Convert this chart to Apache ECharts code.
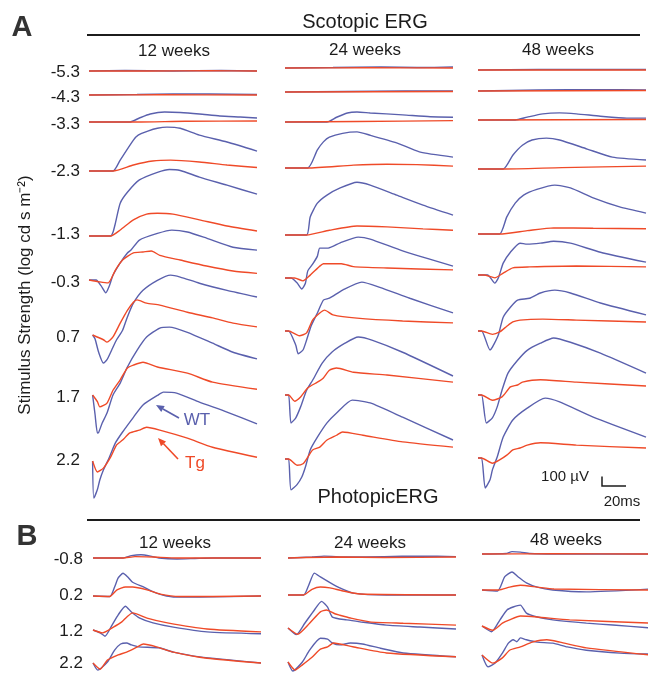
<!DOCTYPE html>
<html><head><meta charset="utf-8">
<script src="https://cdn.jsdelivr.net/npm/echarts/dist/echarts.min.js"></script>
<style>html,body{margin:0;padding:0;background:#fff}#c{width:648px;height:673px}</style>
</head><body><div id="c"></div><script>
// ---------- DATA (time ms, amplitude µV relative to each trace's baseline) ----------
const weekTitles = ['12 weeks', '24 weeks', '48 weeks'];
const scotopicLevels = ['-5.3', '-4.3', '-3.3', '-2.3', '-1.3', '-0.3', '0.7', '1.7', '2.2'];
const photopicLevels = ['-0.8', '0.2', '1.2', '2.2'];

// Scotopic, WT
const scoWT12 = [
  [[0,0],[30,5],[70,0],[110,5],[140,0]],
  [[0,0],[40,5],[70,10],[100,10],[140,5]],
  [[0,0],[34,0],[42,42],[51,84],[63,105],[76,100],[92,84],[109,63],[126,52],[140,42]],
  [[0,0],[20,0],[26,115],[37,325],[41,378],[49,420],[57,450],[65,462],[76,450],[92,378],[115,305],[140,210]],
  [[0,0],[18,0],[20,40],[22,135],[26,345],[32,460],[42,590],[57,670],[67,700],[76,690],[92,620],[115,535],[140,440]],
  [[0,0],[6,0],[10,-60],[14,-135],[17,-60],[20,50],[26,180],[32,285],[35,315],[42,420],[57,490],[69,525],[82,505],[98,440],[120,345],[140,315]],
  [[3,0],[5,-40],[8,-180],[12,-295],[15,-260],[19,-155],[23,-50],[28,50],[32,190],[37,335],[45,470],[57,575],[68,630],[76,610],[92,545],[115,470],[140,400]],
  [[3,0],[5,-200],[7,-400],[8,-395],[11,-295],[15,-190],[20,0],[26,125],[32,295],[40,470],[48,610],[59,705],[67,715],[82,660],[103,545],[120,450],[140,380]],
  [[3,0],[4,-390],[7,-300],[9,-200],[12,-95],[17,40],[22,190],[28,305],[37,460],[45,590],[57,690],[62,725],[73,715],[92,620],[115,515],[140,390]]
];
const scoWT24 = [
  [[0,0],[40,5],[80,10],[110,5],[140,10]],
  [[0,0],[50,5],[100,10],[140,10]],
  [[0,0],[35,0],[43,50],[52,95],[60,105],[71,95],[98,75],[121,55],[140,50]],
  [[0,0],[19,0],[27,190],[32,275],[37,325],[48,365],[60,380],[71,345],[93,265],[112,170],[140,115]],
  [[0,0],[18,0],[21,190],[27,335],[35,420],[46,495],[60,555],[71,525],[93,420],[115,315],[140,210]],
  [[0,0],[5,0],[10,-50],[14,-115],[17,-55],[19,75],[23,145],[27,230],[29,315],[36,315],[46,370],[61,430],[71,410],[98,285],[140,125]],
  [[0,0],[3,0],[9,-150],[11,-240],[15,-200],[18,-95],[22,60],[27,190],[32,325],[37,345],[48,430],[64,515],[79,460],[104,345],[140,190]],
  [[0,0],[3,0],[5,-295],[9,-240],[13,-125],[18,50],[23,155],[31,335],[39,450],[50,545],[61,610],[73,575],[98,450],[140,200]],
  [[0,0],[3,0],[5,-325],[10,-270],[14,-190],[17,-85],[21,95],[27,230],[35,380],[43,485],[56,620],[71,590],[98,440],[140,200]]
];
const scoWT48 = [
  [[0,0],[50,5],[100,5],[140,5]],
  [[0,0],[50,10],[100,15],[140,10]],
  [[0,0],[31,0],[41,30],[54,65],[68,75],[82,65],[102,40],[124,20],[140,20]],
  [[0,0],[21,0],[29,145],[37,250],[45,305],[57,325],[68,305],[91,210],[112,125],[140,95]],
  [[0,0],[18,0],[24,180],[31,325],[38,410],[49,470],[64,515],[77,485],[96,380],[118,285],[140,220]],
  [[0,0],[8,0],[14,-85],[17,-30],[21,125],[27,240],[35,335],[41,325],[52,335],[63,355],[77,335],[102,240],[140,135]],
  [[0,0],[3,0],[10,-200],[12,-170],[17,-40],[21,145],[27,250],[33,325],[43,345],[52,400],[64,430],[77,400],[102,295],[140,170]],
  [[0,0],[3,0],[7,-295],[12,-240],[16,-125],[20,50],[25,230],[33,365],[41,470],[52,545],[63,600],[77,555],[102,440],[140,230]],
  [[0,0],[3,0],[6,-315],[10,-230],[12,-125],[16,10],[21,220],[29,400],[41,525],[56,630],[68,590],[96,430],[140,220]]
];
// Scotopic, Tg
const scoTG12 = [
  [[0,0],[50,0],[100,3],[140,0]],
  [[0,0],[60,3],[140,0]],
  [[0,0],[40,0],[80,8],[140,10]],
  [[0,0],[20,0],[37,63],[53,105],[68,115],[92,95],[115,63],[140,37]],
  [[0,0],[18,0],[26,63],[37,170],[48,230],[57,240],[70,230],[92,170],[115,105],[140,52]],
  [[0,0],[9,-20],[16,-30],[22,105],[28,210],[37,285],[45,295],[52,305],[59,260],[76,210],[98,147],[120,95],[140,70]],
  [[3,0],[12,-50],[15,-75],[20,-20],[26,125],[32,260],[37,345],[40,370],[48,335],[59,315],[82,240],[103,180],[120,125],[140,85]],
  [[3,0],[7,-70],[9,-125],[15,-85],[20,50],[26,160],[32,285],[37,315],[45,345],[57,295],[82,230],[103,135],[140,60]],
  [[3,0],[7,-115],[12,-75],[18,40],[23,170],[28,220],[34,295],[42,325],[48,355],[59,325],[82,240],[103,145],[140,40]]
];
const scoTG24 = [
  [[0,0],[70,3],[140,0]],
  [[0,0],[140,5]],
  [[0,0],[60,5],[140,15]],
  [[0,0],[19,0],[57,30],[85,40],[110,35],[140,20]],
  [[0,0],[18,0],[37,50],[60,95],[85,85],[115,65],[140,50]],
  [[0,0],[8,0],[15,-30],[21,30],[29,125],[32,150],[47,150],[57,120],[85,105],[140,85]],
  [[0,0],[3,0],[12,-50],[18,-20],[23,115],[29,190],[33,220],[40,170],[60,135],[98,105],[140,85]],
  [[0,0],[3,0],[8,-65],[13,-20],[19,75],[27,135],[32,180],[37,260],[43,285],[57,240],[85,210],[140,135]],
  [[0,0],[3,0],[10,-65],[15,-50],[19,20],[23,95],[29,125],[35,200],[43,250],[48,285],[65,250],[98,180],[140,125]]
];
const scoTG48 = [
  [[0,0],[140,0]],
  [[0,0],[140,5]],
  [[0,0],[140,5]],
  [[0,0],[21,0],[70,15],[140,30]],
  [[0,0],[18,0],[41,35],[63,65],[96,60],[140,55]],
  [[0,0],[5,0],[14,-30],[21,20],[29,75],[43,85],[82,95],[140,85]],
  [[0,0],[3,0],[12,-35],[18,-10],[24,50],[29,95],[35,115],[54,125],[82,115],[140,95]],
  [[0,0],[3,0],[12,-55],[20,-20],[27,85],[33,105],[37,135],[52,160],[82,135],[140,95]],
  [[0,0],[3,0],[12,-55],[18,-20],[24,30],[29,85],[35,105],[41,135],[52,160],[82,135],[140,105]]
];
// Photopic, WT
const phoWT12 = [
  [[0,0],[25,0],[32,25],[40,35],[48,20],[55,0],[70,-10],[85,-5],[100,0],[140,0]],
  [[0,0],[14,-5],[18,95],[21,190],[25,240],[29,200],[33,145],[42,95],[53,30],[67,-10],[89,-10],[140,0]],
  [[0,0],[6,-30],[10,-65],[16,55],[21,160],[27,250],[32,190],[39,125],[50,75],[67,30],[95,-20],[140,-40]],
  [[0,0],[4,-75],[12,10],[18,135],[23,200],[28,210],[32,190],[38,170],[55,160],[67,115],[89,65],[140,0]]
];
const phoWT24 = [
  [[0,0],[20,10],[30,20],[50,10],[80,15],[110,20],[140,15]],
  [[0,0],[13,0],[17,95],[22,230],[27,190],[35,130],[43,75],[54,20],[82,0],[140,0]],
  [[0,0],[7,-70],[14,50],[22,190],[28,280],[33,220],[37,115],[49,85],[60,65],[82,30],[110,10],[140,-10]],
  [[0,0],[4,-95],[12,0],[18,125],[27,250],[33,240],[37,200],[43,180],[52,200],[62,190],[77,145],[96,95],[140,55]]
];
const phoWT48 = [
  [[0,0],[20,5],[25,25],[32,20],[40,5],[60,0],[140,0]],
  [[0,0],[13,-10],[19,140],[25,190],[30,140],[37,75],[46,30],[59,0],[87,-20],[140,10]],
  [[0,0],[8,-60],[15,65],[21,170],[26,200],[32,220],[37,135],[46,95],[59,65],[87,30],[109,10],[140,-20]],
  [[0,0],[5,-125],[11,-85],[17,20],[22,125],[26,160],[29,140],[32,180],[37,160],[46,135],[59,125],[71,85],[87,50],[115,20],[140,10]]
];
// Photopic, Tg
const phoTG12 = [
  [[0,0],[25,0],[35,15],[50,10],[70,0],[140,0]],
  [[0,0],[14,-5],[20,65],[27,95],[33,95],[45,65],[56,20],[72,-5],[100,-5],[140,0]],
  [[0,0],[8,-30],[17,30],[24,85],[28,135],[33,180],[45,125],[62,75],[95,10],[140,-20]],
  [[0,0],[6,-65],[12,30],[21,85],[28,115],[37,170],[42,200],[53,170],[67,115],[95,50],[140,0]]
];
const phoTG24 = [
  [[0,0],[40,10],[80,5],[140,10]],
  [[0,0],[13,0],[20,60],[27,85],[35,75],[45,45],[60,10],[140,0]],
  [[0,0],[8,-65],[18,50],[27,170],[32,190],[39,150],[43,135],[52,105],[68,65],[96,50],[140,30]],
  [[0,0],[6,-85],[12,-30],[20,50],[27,135],[33,160],[38,200],[54,160],[82,95],[140,55]]
];
const phoTG48 = [
  [[0,0],[60,3],[140,0]],
  [[0,0],[14,0],[23,30],[32,50],[46,30],[60,10],[140,0]],
  [[0,0],[9,-45],[17,30],[23,65],[32,105],[46,95],[73,65],[140,30]],
  [[0,0],[9,-85],[17,-30],[23,50],[32,85],[42,135],[54,160],[65,135],[87,75],[140,0]]
];

// ---------- LAYOUT ----------
const K = 0.095;       // px per µV
const PXMS = 1.2;      // px per ms
const T_MAX = 140;
const HI = 800, LO = 450;
const WT_COLOR = '#5a60ad', TG_COLOR = '#ef4a28', INK = '#1c1c1c';
const FONT = '"Liberation Sans", Arial, sans-serif';

const colXA = [89, 285, 478];
const baseA = [
  [71, 95, 122, 171, 236, 280, 335, 395, 461],
  [68, 92, 122, 168, 235, 278, 331, 395, 459],
  [70, 91, 120, 169, 234, 275, 331, 395, 458]
];
const colXB = [93, 288, 482];
const baseB = [
  [558, 596, 630, 663],
  [558, 595, 628, 662],
  [554, 590, 626, 655]
];

const grids = [], xAxes = [], yAxes = [], series = [];
function mk(gi, data, color) {
  return {type: 'line', xAxisIndex: gi, yAxisIndex: gi, data: data, showSymbol: false,
    smooth: 0.2, silent: true, clip: false,
    lineStyle: {color: color, width: 1.4}};
}
function addPanel(colX, bases, wtSets, tgSets) {
  colX.forEach((x0, c) => {
    bases[c].forEach((b, r) => {
      const gi = grids.length;
      grids.push({left: x0, top: b - HI * K, width: T_MAX * PXMS, height: (HI + LO) * K,
        outerBoundsMode: 'none', containLabel: false});
      xAxes.push({gridIndex: gi, type: 'value', min: 0, max: T_MAX, show: false});
      yAxes.push({gridIndex: gi, type: 'value', min: -LO, max: HI, show: false});
      series.push(mk(gi, wtSets[c][r], WT_COLOR));
      series.push(mk(gi, tgSets[c][r], TG_COLOR));
    });
  });
}
addPanel(colXA, baseA, [scoWT12, scoWT24, scoWT48], [scoTG12, scoTG24, scoTG48]);
addPanel(colXB, baseB, [phoWT12, phoWT24, phoWT48], [phoTG12, phoTG24, phoTG48]);

const g = [];
function txt(x, y, s, size, opts) {
  g.push(Object.assign({type: 'text', x: x, y: y, silent: true,
    style: Object.assign({text: s, fontSize: size, fontFamily: FONT, fill: INK,
      align: 'center', verticalAlign: 'middle'}, (opts && opts.style) || {})},
    (opts && opts.el) || {}));
}
function hline(x1, x2, y, w, color) {
  g.push({type: 'line', silent: true, shape: {x1: x1, y1: y, x2: x2, y2: y},
    style: {stroke: color || INK, lineWidth: w}});
}
function arrow(x1, y1, x2, y2, color) {
  const ang = Math.atan2(y2 - y1, x2 - x1), L = 8, Wd = 3.5;
  const bx = x2 - L * Math.cos(ang), by = y2 - L * Math.sin(ang);
  g.push({type: 'line', silent: true, shape: {x1: x1, y1: y1, x2: bx, y2: by},
    style: {stroke: color, lineWidth: 1.6}});
  g.push({type: 'polygon', silent: true, shape: {points: [[x2, y2],
    [bx + Wd * Math.sin(ang), by - Wd * Math.cos(ang)],
    [bx - Wd * Math.sin(ang), by + Wd * Math.cos(ang)]]}, style: {fill: color}});
}

// Panel letters and headers
txt(22, 28, 'A', 29, {style: {fontWeight: 'bold', fill: '#333'}});
txt(27, 537, 'B', 29, {style: {fontWeight: 'bold', fill: '#333'}});
txt(365, 22, 'Scotopic ERG', 20);
hline(87, 640, 35, 2);
txt(378, 497, 'PhotopicERG', 20);
hline(87, 640, 520, 2);

const titleA = [[174, 51], [365, 50], [558, 50]];
const titleB = [[175, 543], [370, 543], [566, 540]];
weekTitles.forEach((t, i) => { txt(titleA[i][0], titleA[i][1], t, 17); txt(titleB[i][0], titleB[i][1], t, 17); });

// Row labels
const labelYA = [72, 97, 124, 171, 234, 282, 337, 397, 460];
scotopicLevels.forEach((s, i) => txt(80, labelYA[i], s, 17, {style: {align: 'right'}}));
const labelYB = [559, 595, 631, 663];
photopicLevels.forEach((s, i) => txt(83, labelYB[i], s, 17, {style: {align: 'right'}}));

// Y title
txt(25, 295, 'Stimulus Strength (log cd s m\u207B\u00B2)', 17, {el: {rotation: Math.PI / 2}});

// WT / Tg annotations
arrow(179, 418, 156, 405, WT_COLOR);
txt(197, 420, 'WT', 17, {style: {fill: WT_COLOR}});
arrow(178, 459, 158, 438, TG_COLOR);
txt(195, 463, 'Tg', 17, {style: {fill: TG_COLOR}});

// Scale bar: 100 µV, 20 ms
const sbX = 602, sbY = 486;
g.push({type: 'polyline', silent: true, shape: {points: [[sbX, sbY - 100 * K], [sbX, sbY], [sbX + 20 * PXMS, sbY]]},
  style: {stroke: INK, lineWidth: 1.5, fill: null}});
txt(565, 477, '100 \u00B5V', 15);
txt(622, 502, '20ms', 15);

const chart = echarts.init(document.getElementById('c'), null, {renderer: 'canvas'});
chart.setOption({
  animation: false,
  backgroundColor: '#fff',
  grid: grids, xAxis: xAxes, yAxis: yAxes, series: series,
  graphic: g
});
</script></body></html>
